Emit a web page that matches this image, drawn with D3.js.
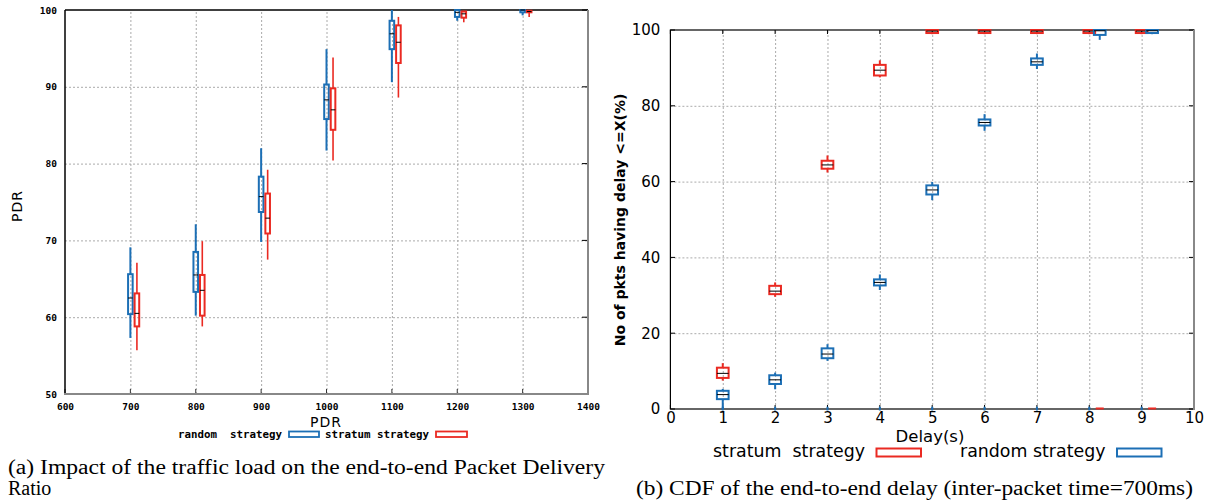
<!DOCTYPE html>
<html>
<head>
<meta charset="utf-8">
<script src="https://cdn.jsdelivr.net/npm/d3@7"></script>
<style>
  body { margin: 0; background: #fff; }
  svg text { white-space: pre; }
</style>
</head>
<body>
<svg id="chart" width="1213" height="504"></svg>
<script>
// (a) PDR vs traffic load: [whiskerLow, q1, median, q3, whiskerHigh]
const loads = [700, 800, 900, 1000, 1100, 1200, 1300];
const randomPdr = [
  [57.3, 60.4, 62.5, 65.6, 69.1],
  [60.2, 63.3, 65.5, 68.5, 72.1],
  [69.8, 73.7, 75.7, 78.3, 82.0],
  [81.7, 85.8, 88.3, 90.3, 94.9],
  [90.6, 94.9, 96.9, 98.6, 100],
  [98.6, 99.1, 99.7, 100, 100],
  [99.3, 99.7, 100, 100, 100]
];
const stratumPdr = [
  [55.7, 58.8, 60.5, 63.1, 67.1],
  [58.8, 60.2, 63.5, 65.5, 69.9],
  [67.5, 70.9, 72.9, 76.1, 79.2],
  [80.4, 84.4, 87.0, 89.8, 93.8],
  [88.6, 93.1, 95.8, 98.0, 99.1],
  [98.4, 99.0, 99.5, 99.8, 99.9],
  [99.1, 99.7, 99.8, 99.9, 100]
];
const loadTicks = [600, 700, 800, 900, 1000, 1100, 1200, 1300, 1400];
const pdrTicks = [50, 60, 70, 80, 90, 100];

// (b) CDF of delay
const stratumX = [1, 2, 3, 4, 5, 6, 7, 8, 9];
const stratumCdf = [
  [7.5, 8.2, 9.4, 10.9, 12.1],
  [29.6, 30.3, 31.1, 32.5, 33.4],
  [62.4, 63.4, 64.4, 65.5, 66.9],
  [87.5, 88.0, 89.4, 90.8, 92.0],
  [98.9, 99.2, 99.7, 100, 100],
  [98.9, 99.2, 99.7, 100, 100],
  [98.9, 99.2, 99.7, 100, 100],
  [98.9, 99.2, 99.7, 100, 100],
  [98.9, 99.2, 99.7, 100, 100]
];
const randomX = [1, 2, 3, 4, 5, 6, 7, 8.2, 9.2];
const randomCdf = [
  [0, 2.6, 3.8, 4.8, 5.3],
  [5.2, 6.6, 7.7, 8.9, 9.6],
  [12.7, 13.4, 14.5, 16.0, 17.1],
  [31.4, 32.6, 33.4, 34.2, 35.5],
  [55.1, 56.6, 57.8, 59.0, 59.9],
  [73.4, 74.8, 75.6, 76.4, 77.8],
  [89.7, 90.8, 91.6, 92.5, 93.8],
  [97.4, 98.7, 99.8, 100, 100],
  [98.9, 99.2, 99.8, 100, 100]
];
// zero-level entries
const randomZeroX = [1, 2, 3, 4, 5, 6, 7, 8, 9];
const randomZero = [0, 0, 0, 0, 0, 0.6, 0.6];
const stratumZeroX = [8.2, 9.2];
const stratumZero = [0, 0, 0, 0.4, 0.4];
const delayTicks = d3.range(0, 11);
const cdfTicks = [0, 20, 40, 60, 80, 100];

const blue = "#1c6fb5", red = "#ea2a22";
const svg = d3.select("#chart");

// ---------- chart (a) ----------
const xL = d3.scaleLinear().domain([600, 1400]).range([65, 588]);
const yL = d3.scaleLinear().domain([50, 100]).range([394, 10]);
const gA = svg.append("g");

gA.append("g").attr("transform", "translate(0,394)")
  .call(d3.axisBottom(xL).tickValues(loadTicks.slice(1, -1)).tickSize(-384).tickFormat(""))
  .call(g => g.select(".domain").remove())
  .selectAll("line").attr("stroke", "#aaa").attr("stroke-dasharray", "2,2");
gA.append("g").attr("transform", "translate(65,0)")
  .call(d3.axisLeft(yL).tickValues(pdrTicks.slice(1, -1)).tickSize(-523).tickFormat(""))
  .call(g => g.select(".domain").remove())
  .selectAll("line").attr("stroke", "#aaa").attr("stroke-dasharray", "2,2");

// inward ticks
gA.append("g").selectAll("line").data(pdrTicks).join("line")
  .attr("x1", 582).attr("x2", 588).attr("y1", d => yL(d)).attr("y2", d => yL(d)).attr("stroke", "#000");
gA.append("g").selectAll("line").data(loadTicks).join("line")
  .attr("x1", d => xL(d)).attr("x2", d => xL(d)).attr("y1", 394).attr("y2", 389).attr("stroke", "#333");

// frame
gA.append("line").attr("x1", 65).attr("x2", 588).attr("y1", 10).attr("y2", 10).attr("stroke", "#000").attr("stroke-width", 1.5);
gA.append("line").attr("x1", 65).attr("x2", 65).attr("y1", 10).attr("y2", 394).attr("stroke", "#000").attr("stroke-width", 1.5);
gA.append("line").attr("x1", 588).attr("x2", 588).attr("y1", 10).attr("y2", 395).attr("stroke", "#888").attr("stroke-width", 2);
gA.append("line").attr("x1", 64).attr("x2", 589).attr("y1", 394).attr("y2", 394).attr("stroke", "#888").attr("stroke-width", 2);

const monoFont = "'DejaVu Sans Mono', monospace";
gA.append("g").attr("transform", "translate(0,394)")
  .call(d3.axisBottom(xL).tickValues(loadTicks).tickSize(0).tickPadding(9).tickFormat(d3.format("d")))
  .call(g => g.select(".domain").remove())
  .selectAll("text").attr("font-family", monoFont).attr("font-weight", "bold").attr("font-size", 9.5).attr("fill", "#000");
gA.append("g").attr("transform", "translate(65,0)")
  .call(d3.axisLeft(yL).tickValues(pdrTicks).tickSize(0).tickPadding(8))
  .call(g => g.select(".domain").remove())
  .selectAll("text").attr("font-family", monoFont).attr("font-weight", "bold").attr("font-size", 9.5).attr("fill", "#000");

gA.append("text").attr("x", 326).attr("y", 427).attr("text-anchor", "middle")
  .attr("font-family", "'DejaVu Sans', sans-serif").attr("font-size", 14).attr("letter-spacing", 1).text("PDR");
gA.append("text").attr("transform", "translate(22,206) rotate(-90)").attr("text-anchor", "middle")
  .attr("font-family", "'DejaVu Sans', sans-serif").attr("font-size", 14).attr("letter-spacing", 1).text("PDR");

function drawBoxes(g, xs, stats, xScale, yScale, shift, color, w, sw) {
  const grp = g.append("g");
  xs.forEach((x, i) => {
    const [lo, q1, med, q3, hi] = stats[i];
    const cx = xScale(x + shift);
    grp.append("line").attr("x1", cx).attr("x2", cx).attr("y1", yScale(hi)).attr("y2", yScale(q3))
      .attr("stroke", color).attr("stroke-width", sw);
    grp.append("line").attr("x1", cx).attr("x2", cx).attr("y1", yScale(q1)).attr("y2", yScale(lo))
      .attr("stroke", color).attr("stroke-width", sw);
    grp.append("rect").attr("x", cx - w / 2).attr("y", yScale(q3)).attr("width", w)
      .attr("height", Math.max(0, yScale(q1) - yScale(q3)))
      .attr("fill", "none").attr("stroke", color).attr("stroke-width", 2);
    grp.append("line").attr("x1", cx - w / 2).attr("x2", cx + w / 2).attr("y1", yScale(med)).attr("y2", yScale(med))
      .attr("stroke", "#000").attr("stroke-width", 1);
  });
}
drawBoxes(gA, loads, randomPdr, xL, yL, 0, blue, 4.6, 2);
drawBoxes(gA, loads, stratumPdr, xL, yL, 10, red, 4.6, 1.6);

// legend (a)
const legA = gA.append("g").attr("font-family", monoFont).attr("font-weight", "bold").attr("font-size", 10.8);
legA.append("text").attr("x", 178).attr("y", 438).text("random  strategy");
legA.append("rect").attr("x", 289).attr("y", 431.5).attr("width", 30).attr("height", 5.5).attr("fill", "none").attr("stroke", blue).attr("stroke-width", 1.8);
legA.append("text").attr("x", 325).attr("y", 438).text("stratum strategy");
legA.append("rect").attr("x", 436).attr("y", 431.5).attr("width", 31).attr("height", 5.5).attr("fill", "none").attr("stroke", red).attr("stroke-width", 1.8);

// ---------- chart (b) ----------
const xR = d3.scaleLinear().domain([0, 10]).range([670.4, 1194]);
const yR = d3.scaleLinear().domain([0, 100]).range([409, 30]);
const gB = svg.append("g");
const sans = "'DejaVu Sans', sans-serif";

gB.append("g").attr("transform", "translate(0,409)")
  .call(d3.axisBottom(xR).tickValues(delayTicks.slice(1, -1)).tickSize(-379).tickFormat(""))
  .call(g => g.select(".domain").remove())
  .selectAll("line").attr("stroke", "#aaa").attr("stroke-dasharray", "2,2");
gB.append("g").attr("transform", "translate(670.4,0)")
  .call(d3.axisLeft(yR).tickValues(cdfTicks.slice(1, -1)).tickSize(-523.6).tickFormat(""))
  .call(g => g.select(".domain").remove())
  .selectAll("line").attr("stroke", "#aaa").attr("stroke-dasharray", "2,2");

gB.append("g").selectAll("line").data(delayTicks).join("line")
  .attr("x1", d => xR(d)).attr("x2", d => xR(d)).attr("y1", 30).attr("y2", 34).attr("stroke", "#000");
gB.append("g").selectAll("line").data(delayTicks).join("line")
  .attr("x1", d => xR(d)).attr("x2", d => xR(d)).attr("y1", 409).attr("y2", 405).attr("stroke", "#000");
gB.append("g").selectAll("line").data(cdfTicks).join("line")
  .attr("x1", 670.4).attr("x2", 675).attr("y1", d => yR(d)).attr("y2", d => yR(d)).attr("stroke", "#000");
gB.append("g").selectAll("line").data(cdfTicks).join("line")
  .attr("x1", 1189).attr("x2", 1194).attr("y1", d => yR(d)).attr("y2", d => yR(d)).attr("stroke", "#000");

gB.append("rect").attr("x", 670.4).attr("y", 30).attr("width", 523.6).attr("height", 379)
  .attr("fill", "none").attr("stroke", "#000").attr("stroke-width", 1.2);
gB.append("line").attr("x1", 1194).attr("x2", 1194).attr("y1", 30).attr("y2", 410).attr("stroke", "#888").attr("stroke-width", 2);

gB.append("g").attr("transform", "translate(0,409)")
  .call(d3.axisBottom(xR).tickValues(delayTicks).tickSize(0).tickPadding(3))
  .call(g => g.select(".domain").remove())
  .selectAll("text").attr("font-family", sans).attr("font-size", 15).attr("fill", "#000");
gB.append("g").attr("transform", "translate(670.4,0)")
  .call(d3.axisLeft(yR).tickValues(cdfTicks).tickSize(0).tickPadding(10))
  .call(g => g.select(".domain").remove())
  .selectAll("text").attr("font-family", sans).attr("font-size", 15).attr("fill", "#000");

gB.append("text").attr("x", 930).attr("y", 442).attr("text-anchor", "middle")
  .attr("font-family", sans).attr("font-size", 16.5).text("Delay(s)");
gB.append("text").attr("transform", "translate(625,220) rotate(-90)").attr("text-anchor", "middle")
  .attr("font-family", sans).attr("font-weight", "bold").attr("font-size", 14).text("No of pkts having delay <=X(%)");

drawBoxes(gB, stratumX, stratumCdf, xR, yR, 0, red, 11.7, 2);
drawBoxes(gB, randomX, randomCdf, xR, yR, 0, blue, 11.7, 2);
// zero-level marks
gB.append("g").selectAll("line").data(randomZeroX).join("line")
  .attr("x1", d => xR(d)).attr("x2", d => xR(d))
  .attr("y1", yR(randomZero[0]) + 1.5).attr("y2", yR(randomZero[6]))
  .attr("stroke", blue).attr("stroke-width", 2);
gB.append("g").selectAll("rect").data(stratumZeroX).join("rect")
  .attr("x", d => xR(d) - 4).attr("y", yR(stratumZero[3])).attr("width", 8)
  .attr("height", yR(stratumZero[0]) - yR(stratumZero[3]) + 0.5).attr("fill", red);

// legend (b)
const legB = gB.append("g").attr("font-family", sans).attr("font-size", 17.4);
legB.append("text").attr("x", 713).attr("y", 457).text("stratum  strategy");
legB.append("rect").attr("x", 876.5).attr("y", 448.5).attr("width", 44.5).attr("height", 8).attr("fill", "none").attr("stroke", red).attr("stroke-width", 2);
legB.append("text").attr("x", 960).attr("y", 457).text("random strategy");
legB.append("rect").attr("x", 1117).attr("y", 448.5).attr("width", 44.5).attr("height", 8).attr("fill", "none").attr("stroke", blue).attr("stroke-width", 2);

// captions
const serif = "'Liberation Serif', 'DejaVu Serif', serif";
svg.append("text").attr("x", 8).attr("y", 474).attr("font-family", serif).attr("font-size", 20)
  .attr("textLength", 597).attr("lengthAdjust", "spacingAndGlyphs")
  .text("(a) Impact of the traffic load on the end-to-end Packet Delivery");
svg.append("text").attr("x", 8).attr("y", 495).attr("font-family", serif).attr("font-size", 20)
  .text("Ratio");
svg.append("text").attr("x", 636).attr("y", 495).attr("font-family", serif).attr("font-size", 20)
  .attr("textLength", 557).attr("lengthAdjust", "spacingAndGlyphs")
  .text("(b) CDF of the end-to-end delay (inter-packet time=700ms)");
</script>
</body>
</html>
